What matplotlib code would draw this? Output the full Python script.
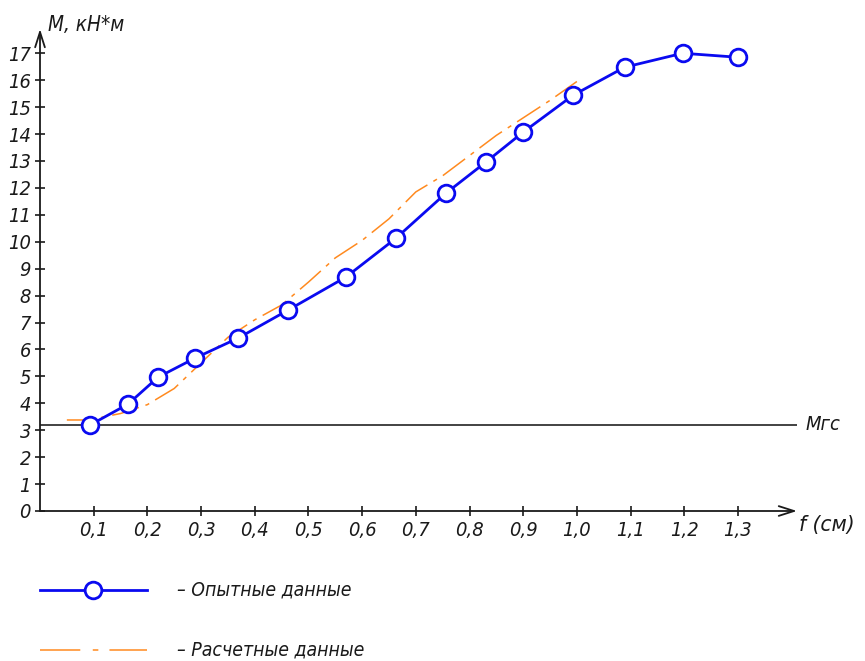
import matplotlib
matplotlib.use("Agg")
import matplotlib.pyplot as plt
from matplotlib import font_manager

# Experimental moment vs. deflection
f_exp = [0.093, 0.164, 0.22, 0.289, 0.369, 0.462, 0.57, 0.663, 0.756, 0.83,
         0.90, 0.993, 1.089, 1.197, 1.30]
m_exp = [3.19, 3.97, 4.97, 5.68, 6.42, 7.46, 8.69, 10.13, 11.8, 12.95,
         14.07, 15.44, 16.48, 17.0, 16.85]

# Calculated moment vs. deflection
f_calc = [0.05, 0.09, 0.15, 0.2, 0.25, 0.3, 0.35, 0.4, 0.45, 0.5,
          0.55, 0.6, 0.65, 0.7, 0.75, 0.8, 0.85, 0.9, 0.95, 1.0]
m_calc = [3.38, 3.38, 3.62, 3.95, 4.55, 5.5, 6.45, 7.1, 7.65, 8.5,
          9.4, 10.05, 10.85, 11.85, 12.45, 13.2, 13.95, 14.6, 15.25, 15.95]

m_gs = 3.2

x_ticks = [0.1, 0.2, 0.3, 0.4, 0.5, 0.6, 0.7, 0.8, 0.9, 1.0, 1.1, 1.2, 1.3]
x_labels = ["0,1", "0,2", "0,3", "0,4", "0,5", "0,6", "0,7", "0,8", "0,9",
            "1,0", "1,1", "1,2", "1,3"]
y_ticks = list(range(0, 18))

y_title = "M, кН*м"
x_title = "f (см)"
gs_label = "Mгс"
legend_exp = "– Опытные данные"
legend_calc = "– Расчетные данные"

plt.rcParams["lines.scale_dashes"] = False

# pick a narrow face if one is available
names = {f.name for f in font_manager.fontManager.ttflist}
if "Liberation Sans Narrow" in names:
    FONT = ["Liberation Sans Narrow", "DejaVu Sans"]
    SCALE = 1.0
    STRETCH = "normal"
else:
    FONT = ["DejaVu Sans"]
    SCALE = 0.9
    STRETCH = "condensed"

TXT = "#1a1a1a"
BLUE = "#0a0af0"
ORANGE = "#ff8a1f"
CALC_DASH = (0, (20, 5, 3, 5))
TEXT_KW = dict(family=FONT, style="italic", stretch=STRETCH, color=TXT)

W, H = 865, 661
fig = plt.figure(figsize=(W / 100, H / 100), dpi=100)
ax = fig.add_axes([40 / W, (H - 511) / H, 757 / W, 482 / H])
ax.set_xlim(0, 1.41)
ax.set_ylim(0, 17.9)
for s in ax.spines.values():
    s.set_visible(False)

# axes with open arrow heads
arrow_kw = dict(arrowstyle="->,head_length=1.1,head_width=0.35", lw=1.3, color=TXT,
                shrinkA=0, shrinkB=0)
ax.annotate("", xy=(1.0, 0), xytext=(0, 0), xycoords="axes fraction",
            arrowprops=arrow_kw, annotation_clip=False)
ax.annotate("", xy=(0, 1.0), xytext=(0, 0), xycoords="axes fraction",
            arrowprops=arrow_kw, annotation_clip=False)

ax.set_xticks(x_ticks)
ax.set_xticklabels(x_labels)
ax.set_yticks(y_ticks)
ax.set_yticklabels([str(v) for v in y_ticks])
ax.tick_params(axis="both", direction="inout", length=7, width=1.2, color=TXT,
               labelcolor=TXT, labelsize=16 * SCALE)
ax.tick_params(axis="x", pad=4)
ax.tick_params(axis="y", pad=3)
for lab in ax.get_xticklabels() + ax.get_yticklabels():
    lab.set_family(FONT)
    lab.set_style("italic")
    lab.set_stretch(STRETCH)

# horizontal reference line
ax.axhline(m_gs, xmin=0, xmax=1.0, color="#222222", lw=1.2)
ax.text(1.425, m_gs, gs_label, fontsize=16 * SCALE, va="center", ha="left",
        clip_on=False, **TEXT_KW)

ax.plot(f_calc, m_calc, color=ORANGE, lw=1.1, linestyle=CALC_DASH, zorder=3)
ax.plot(f_exp, m_exp, color=BLUE, lw=2.0, marker="o", ms=12, mfc="white",
        mec=BLUE, mew=2.0, zorder=4)

# axis titles
fig.text(48 / W, 1 - 31 / H, y_title, fontsize=16.5 * SCALE, ha="left",
         va="baseline", **TEXT_KW)
fig.text(799 / W, 1 - 531 / H, x_title, fontsize=18 * SCALE, ha="left",
         va="baseline", **TEXT_KW)

# legend drawn as sample lines plus captions
lg = fig.add_axes([0, 0, 1, 1], facecolor="none")
lg.set_xlim(0, W)
lg.set_ylim(H, 0)
lg.axis("off")
lg.plot([40, 147], [590, 590], color=BLUE, lw=2.0)
lg.plot([93], [590], marker="o", ms=12, mfc="white", mec=BLUE, mew=2.0)
lg.plot([40, 147], [650, 650], color=ORANGE, lw=1.1, linestyle=(0, (29, 9, 4, 8)))
lg.text(177, 590, legend_exp, fontsize=15.5 * SCALE, va="center", ha="left",
        **TEXT_KW)
lg.text(177, 650, legend_calc, fontsize=15.5 * SCALE, va="center", ha="left",
        **TEXT_KW)

fig.savefig("out.png", dpi=100, facecolor="white")
